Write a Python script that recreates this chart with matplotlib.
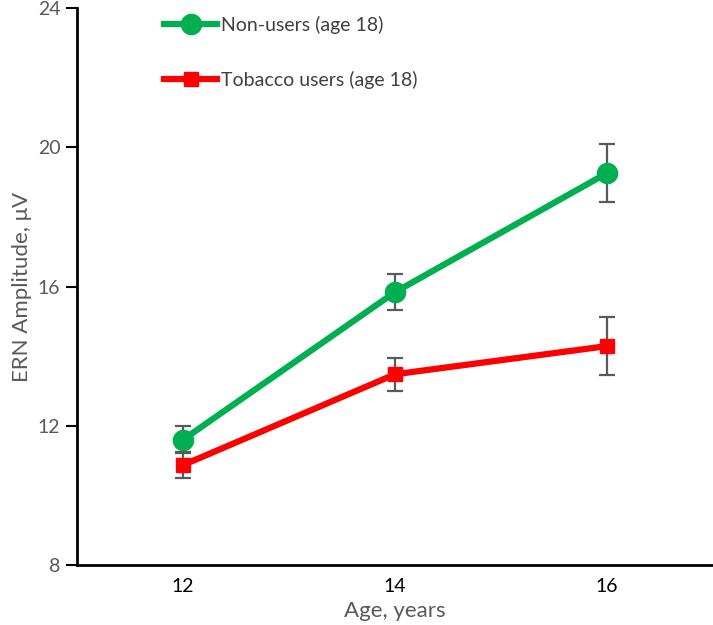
import matplotlib
matplotlib.use("Agg")
import matplotlib.pyplot as plt

ages = [12, 14, 16]
nonusers = [11.6, 15.84, 19.26]
nonusers_err = [0.38, 0.52, 0.84]
tobacco = [10.87, 13.48, 14.29]
tobacco_err = [0.38, 0.47, 0.83]
series_labels = ["Non-users (age 18)", "Tobacco users (age 18)"]
yticks = [8, 12, 16, 20, 24]

plt.rcParams['font.family'] = ['Lato', 'DejaVu Sans']

fig = plt.figure(figsize=(7.13, 6.25), dpi=100)
ax = fig.add_axes([0.108, 0.096, 0.892, 0.891])

green = '#00B050'
red = '#FF0000'
errc = '#595959'

ax.errorbar(ages, nonusers, yerr=nonusers_err, fmt='none', ecolor=errc,
            elinewidth=1.6, capsize=6, capthick=1.6, zorder=2)
ax.errorbar(ages, tobacco, yerr=tobacco_err, fmt='none', ecolor=errc,
            elinewidth=1.6, capsize=6, capthick=1.6, zorder=2)
ax.plot(ages, nonusers, color=green, lw=4.5, marker='o', markersize=14.5,
        label=series_labels[0], zorder=3)
ax.plot(ages, tobacco, color=red, lw=4.5, marker='s', markersize=10.5,
        label=series_labels[1], zorder=3)

ax.set_xlim(11, 17)
ax.set_ylim(8, 24)
ax.set_xticks(ages)
ax.set_yticks(yticks)
ax.tick_params(axis='x', length=0, labelsize=14, colors='black', pad=9)
ax.tick_params(axis='y', length=8, width=1.5, labelsize=14, labelcolor='#595959', pad=4)
for s in ['top', 'right']:
    ax.spines[s].set_visible(False)
for s in ['left', 'bottom']:
    ax.spines[s].set_linewidth(2)

ax.set_xlabel('Age, years', fontsize=16, color='#595959', labelpad=5)
ax.set_ylabel('ERN Amplitude, μV', fontsize=16, color='#595959', labelpad=4)

leg = ax.legend(loc='upper left', bbox_to_anchor=(0.11, 1.018), frameon=False,
                fontsize=14, handlelength=2.7, handletextpad=0.2,
                labelspacing=1.9, labelcolor='#404040')

fig.savefig('out.png', dpi=100)
